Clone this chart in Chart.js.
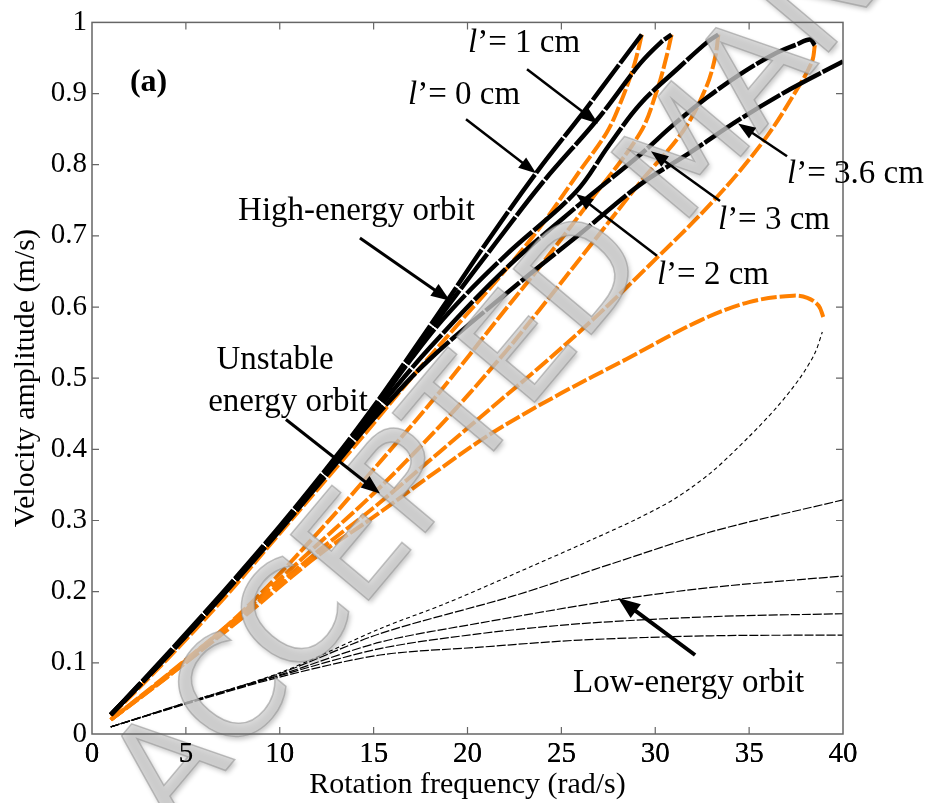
<!DOCTYPE html>
<html>
<head>
<meta charset="utf-8">
<script src="https://cdn.jsdelivr.net/npm/chart.js@4.4.0/dist/chart.umd.min.js"></script>
<style>
html, body { margin: 0; padding: 0; background: #fff; }
</style>
</head>
<body>
<canvas id="orbits" width="940" height="803"></canvas>
<script>
// tick labels
const xTicks = [0, 5, 10, 15, 20, 25, 30, 35, 40];
const yTicks = [0, 0.1, 0.2, 0.3, 0.4, 0.5, 0.6, 0.7, 0.8, 0.9, 1];

// high-energy orbits (black), [rotation frequency, velocity amplitude]
const high0 = [[1,0.027],[4,0.112],[7,0.2],[10,0.292],[13,0.39],[15,0.46],[17,0.535],[19,0.612],[21,0.69],[23.7,0.79],[26.15,0.873],[28,0.938],[29.28,0.983]];
const high1 = [[1,0.027],[4,0.11],[7,0.198],[10,0.29],[13,0.387],[15,0.457],[17,0.53],[19,0.603],[21.5,0.69],[24,0.775],[26.96,0.865],[29.19,0.942],[30.3,0.972],[30.87,0.983]];
const high2 = [[1,0.027],[4,0.11],[7,0.198],[10,0.289],[13,0.385],[15,0.455],[17,0.527],[19,0.592],[22,0.672],[25.78,0.762],[27.5,0.826],[29.19,0.885],[31.32,0.938],[32.8,0.973],[33.36,0.983]];
const high3 = [[1,0.027],[4,0.11],[7,0.197],[10,0.288],[13,0.383],[15,0.45],[18,0.543],[22,0.653],[26,0.745],[29.19,0.814],[30.96,0.856],[32.74,0.894],[34.51,0.927],[36.29,0.955],[37.53,0.969],[38.24,0.976],[38.5,0.968]];
const high36 = [[1,0.027],[4,0.109],[7,0.196],[10,0.286],[13,0.38],[15,0.443],[18,0.527],[22.8,0.635],[26,0.703],[29.19,0.772],[31.85,0.817],[34.51,0.864],[37.18,0.906],[40,0.945]];

// unstable orbits (orange)
const unst0 = [[29.28,0.983],[29.1,0.962],[28.83,0.936],[28.12,0.885],[27.41,0.845],[26,0.792],[23.86,0.712],[21.7,0.642],[19.5,0.576],[17,0.5],[14,0.405],[10,0.282],[7,0.19],[4,0.105],[1,0.025]];
const unst1 = [[30.87,0.983],[30.6,0.952],[30.1,0.905],[29.2,0.845],[26.5,0.748],[23.86,0.657],[21.7,0.586],[18.5,0.48],[15,0.372],[12,0.282],[8,0.172],[4,0.082],[1,0.02]];
const unst2 = [[33.36,0.983],[33.2,0.952],[32.73,0.91],[31.5,0.848],[29.19,0.775],[26.5,0.685],[23.86,0.597],[21.7,0.527],[18.5,0.432],[15,0.338],[12,0.266],[8,0.17],[4,0.083],[1,0.02]];
const unst3 = [[38.5,0.968],[38.35,0.945],[37.53,0.905],[35.76,0.833],[33.09,0.749],[29.54,0.655],[26.7,0.583],[23.86,0.516],[21.7,0.468],[18.5,0.396],[15,0.318],[12,0.256],[8,0.166],[4,0.08],[1,0.02]];
const unst36 = [[38.95,0.586],[38.7,0.602],[38.1,0.613],[37.35,0.616],[35,0.607],[32.38,0.581],[28.48,0.527],[24.93,0.478],[21.37,0.424],[18.5,0.372],[15,0.305],[12,0.25],[8,0.163],[4,0.08],[1,0.02]];

// low-energy orbits (thin black)
const low0 = [[1,0.01],[5,0.042],[10,0.08],[15.34,0.111],[20.67,0.122],[26,0.132],[33,0.138],[40,0.139]];
const low1 = [[1,0.01],[5,0.043],[10,0.082],[15.34,0.12],[20.67,0.141],[26,0.155],[33.09,0.165],[40,0.169]];
const low2 = [[1,0.01],[5,0.043],[10,0.083],[15.34,0.129],[20.67,0.156],[27.77,0.188],[33,0.206],[40,0.222]];
const low3 = [[1,0.01],[5,0.044],[10,0.085],[15.34,0.141],[22.44,0.194],[27.77,0.24],[33.09,0.285],[40,0.329]];
const low36 = [[1,0.01],[5,0.044],[10,0.086],[15.34,0.148],[18.89,0.184],[24.22,0.245],[26.7,0.274],[29,0.302],[31,0.33],[33,0.368],[35,0.418],[36.5,0.46],[37.7,0.5],[38.5,0.535],[38.9,0.565]];

const ORANGE = '#ff8000';
const SERIF = 'Liberation Serif';

const pts = arr => arr.map(p => ({ x: p[0], y: p[1] }));

function curve(arr, color, width, dash, tension) {
    return {
        data: pts(arr),
        showLine: true,
        borderColor: color,
        backgroundColor: color,
        borderWidth: width,
        borderDash: dash,
        borderCapStyle: 'butt',
        tension: tension,
        pointRadius: 0
    };
}

// text labels and arrows, placed in axis units
const lLabels = [
    { v: '1', x: 20.03, y: 0.959 },
    { v: '0', x: 16.83, y: 0.885 },
    { v: '3.6', x: 37.02, y: 0.774 },
    { v: '3', x: 33.34, y: 0.710 },
    { v: '2', x: 30.09, y: 0.6325 }
];
const textLabels = [
    { t: 'High-energy orbit', x: 7.78, y: 0.722, align: 'left' },
    { t: 'Unstable', x: 9.75, y: 0.513, align: 'center' },
    { t: 'energy orbit', x: 10.44, y: 0.454, align: 'center' },
    { t: 'Low-energy orbit', x: 25.62, y: 0.059, align: 'left' }
];
const arrows = [
    [23.17, 0.934, 26.95, 0.858, 2.5],
    [19.92, 0.864, 23.65, 0.788, 2.5],
    [37.02, 0.812, 34.41, 0.858, 2.5],
    [33.45, 0.749, 29.77, 0.819, 2.5],
    [30.09, 0.672, 25.78, 0.759, 2.5],
    [14.27, 0.697, 19.07, 0.609, 3],
    [10.33, 0.442, 15.34, 0.338, 3],
    [32.12, 0.111, 28.02, 0.191, 4]
];

function drawArrow(ctx, x1, y1, x2, y2, w) {
    const ang = Math.atan2(y2 - y1, x2 - x1);
    const len = 10 + w * 3, half = 3 + w * 1.4;
    const bx = x2 - len * Math.cos(ang), by = y2 - len * Math.sin(ang);
    ctx.lineWidth = w;
    ctx.beginPath();
    ctx.moveTo(x1, y1);
    ctx.lineTo(bx + 2 * Math.cos(ang), by + 2 * Math.sin(ang));
    ctx.stroke();
    ctx.beginPath();
    ctx.moveTo(x2, y2);
    ctx.lineTo(bx + half * Math.sin(ang), by - half * Math.cos(ang));
    ctx.lineTo(bx - half * Math.sin(ang), by + half * Math.cos(ang));
    ctx.closePath();
    ctx.fill();
}

function drawWatermark(ctx) {
    ctx.save();
    ctx.translate(174, 832);
    ctx.rotate(-50 * Math.PI / 180);
    ctx.font = '140px "DejaVu Sans"';
    ctx.shadowColor = 'rgba(0,0,0,0.3)';
    ctx.shadowBlur = 5;
    ctx.shadowOffsetX = 2;
    ctx.shadowOffsetY = 3;
    ctx.fillStyle = 'rgba(205,205,205,0.75)';
    ctx.fillText('ACCEPTED MANUSCRIPT', 0, 0);
    ctx.shadowColor = 'transparent';
    ctx.lineWidth = 1.5;
    ctx.strokeStyle = 'rgba(140,140,140,0.5)';
    ctx.strokeText('ACCEPTED MANUSCRIPT', 0, 0);
    ctx.restore();
}

const decorations = {
    id: 'decorations',
    afterDatasetsDraw(chart) {
        drawWatermark(chart.ctx);
    },
    afterDraw(chart) {
        const { ctx, chartArea: a, scales: { x, y } } = chart;
        ctx.save();
        // box and inward ticks
        ctx.strokeStyle = '#666';
        ctx.lineWidth = 1.5;
        ctx.strokeRect(a.left, a.top, a.right - a.left, a.bottom - a.top);
        ctx.lineWidth = 1.2;
        ctx.beginPath();
        xTicks.slice(1, -1).forEach(v => {
            const p = x.getPixelForValue(v);
            ctx.moveTo(p, a.bottom); ctx.lineTo(p, a.bottom - 7);
            ctx.moveTo(p, a.top); ctx.lineTo(p, a.top + 7);
        });
        yTicks.slice(1, -1).forEach(v => {
            const p = y.getPixelForValue(v);
            ctx.moveTo(a.left, p); ctx.lineTo(a.left + 7, p);
            ctx.moveTo(a.right, p); ctx.lineTo(a.right - 7, p);
        });
        ctx.stroke();
        ctx.restore();

        x.drawLabels(a);

        ctx.save();
        ctx.fillStyle = '#000';
        ctx.strokeStyle = '#000';
        ctx.textBaseline = 'alphabetic';

        lLabels.forEach(d => {
            let px = x.getPixelForValue(d.x);
            const py = y.getPixelForValue(d.y);
            ctx.textAlign = 'left';
            ctx.font = 'italic 33px "' + SERIF + '"';
            ctx.fillText('l', px, py);
            px += ctx.measureText('l').width;
            ctx.font = '33px "' + SERIF + '"';
            ctx.fillText('\u2019= ' + d.v + ' cm', px, py);
        });

        ctx.font = '33px "' + SERIF + '"';
        textLabels.forEach(d => {
            ctx.textAlign = d.align;
            ctx.fillText(d.t, x.getPixelForValue(d.x), y.getPixelForValue(d.y));
        });

        ctx.font = 'bold 32px "' + SERIF + '"';
        ctx.textAlign = 'left';
        ctx.fillText('(a)', x.getPixelForValue(2.02), y.getPixelForValue(0.903));

        arrows.forEach(r => {
            drawArrow(ctx, x.getPixelForValue(r[0]), y.getPixelForValue(r[1]),
                x.getPixelForValue(r[2]), y.getPixelForValue(r[3]), r[4]);
        });
        ctx.restore();
    }
};

new Chart(document.getElementById('orbits'), {
    type: 'scatter',
    data: {
        datasets: [
            curve(high0, '#000', 4.5, [44, 2], 0.35),
            curve(high1, '#000', 4.5, [44, 2], 0.35),
            curve(high2, '#000', 4.5, [44, 2], 0.35),
            curve(high3, '#000', 4.5, [44, 2], 0.35),
            curve(high36, '#000', 4.5, [44, 2], 0.35),
            curve(unst0, ORANGE, 4, [16, 3], 0.35),
            curve(unst1, ORANGE, 4, [16, 3], 0.35),
            curve(unst2, ORANGE, 4, [16, 3], 0.35),
            curve(unst3, ORANGE, 4, [16, 3], 0.35),
            curve(unst36, ORANGE, 4, [16, 3], 0.35),
            curve(low0, '#000', 1.2, [9, 2], 0.3),
            curve(low1, '#000', 1.2, [9, 2], 0.3),
            curve(low2, '#000', 1.2, [9, 2], 0.3),
            curve(low3, '#000', 1.2, [9, 2], 0.3),
            curve(low36, '#000', 1.1, [4, 3], 0.3)
        ]
    },
    options: {
        responsive: false,
        animation: false,
        devicePixelRatio: 1,
        layout: { padding: { top: 21, right: 97, left: 0, bottom: 0 } },
        plugins: {
            legend: { display: false },
            tooltip: { enabled: false }
        },
        scales: {
            x: {
                type: 'linear',
                min: 0,
                max: 40,
                afterFit: s => { s.height = 69; },
                afterBuildTicks: s => { s.ticks = xTicks.map(v => ({ value: v })); },
                grid: { display: false, drawTicks: false },
                border: { display: false },
                ticks: {
                    color: '#000',
                    font: { family: SERIF, size: 29, lineHeight: 1.2 },
                    padding: 3,
                    maxRotation: 0,
                    autoSkip: false
                },
                title: {
                    display: true,
                    text: 'Rotation frequency (rad/s)',
                    color: '#000',
                    font: { family: SERIF, size: 30, lineHeight: 1.2 },
                    padding: { top: 0, bottom: 0 }
                }
            },
            y: {
                type: 'linear',
                min: 0,
                max: 1,
                afterFit: s => { s.width = 92; },
                afterBuildTicks: s => { s.ticks = yTicks.map(v => ({ value: v })); },
                grid: { display: false, drawTicks: false },
                border: { display: false },
                ticks: {
                    color: '#000',
                    font: { family: SERIF, size: 29, lineHeight: 1.2 },
                    padding: 5,
                    autoSkip: false,
                    callback: v => (v === 0 || v === 1) ? String(v) : v.toFixed(1)
                },
                title: {
                    display: true,
                    text: 'Velocity amplitude (m/s)',
                    color: '#000',
                    font: { family: SERIF, size: 30, lineHeight: 1.2 },
                    padding: { top: 8, bottom: 0 }
                }
            }
        }
    },
    plugins: [decorations]
});
</script>
</body>
</html>
